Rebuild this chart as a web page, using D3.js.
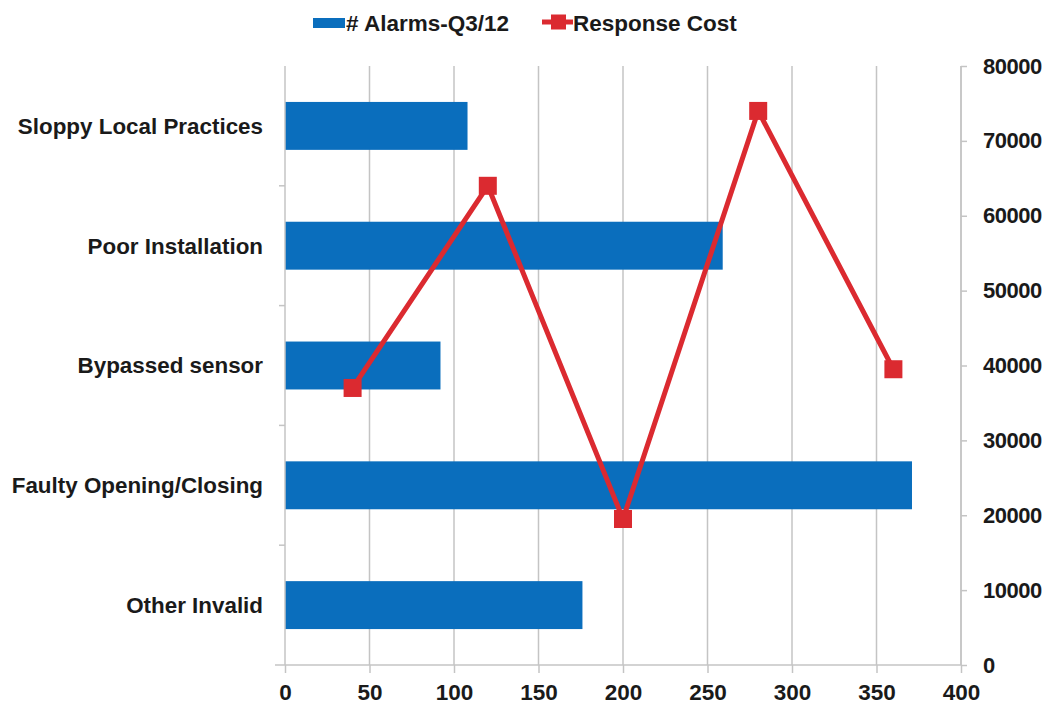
<!DOCTYPE html>
<html>
<head>
<meta charset="utf-8">
<script src="https://cdn.jsdelivr.net/npm/d3@7"></script>
<style>
  html, body { margin: 0; padding: 0; background: #fff; }
  svg text { font-family: "Liberation Sans", Arial, sans-serif; font-weight: bold; fill: #1a1a1a; }
</style>
</head>
<body>
<svg id="chart" width="1048" height="708"></svg>
<script>
// Categories listed top to bottom as shown
const categories = ["Sloppy Local Practices", "Poor Installation", "Bypassed sensor", "Faulty Opening/Closing", "Other Invalid"];
const alarms = [108, 259, 92, 371, 176];
// Response cost points, left to right
const costOrder = ["Other Invalid", "Faulty Opening/Closing", "Bypassed sensor", "Poor Installation", "Sloppy Local Practices"];
const costs = [37000, 64000, 19500, 74000, 39500];
const xTicks = [0, 50, 100, 150, 200, 250, 300, 350, 400];
const yTicks = [0, 10000, 20000, 30000, 40000, 50000, 60000, 70000, 80000];
const seriesNames = ["# Alarms-Q3/12", "Response Cost"];

const barColor = "#0a6ebd";
const lineColor = "#db2a30";
const gridColor = "#c4c4c4";

const svg = d3.select("#chart");
const L = 285, R = 961, T = 66, B = 665;

const x = d3.scaleLinear().domain([0, 400]).range([L, R]);
const yBand = d3.scaleBand().domain(categories).range([T, B]).paddingInner(0.6).paddingOuter(0.3);
const yCost = d3.scaleLinear().domain([0, 80000]).range([B, T]);
const xCat = d3.scaleBand().domain(costOrder).range([L, R]);

// vertical gridlines
svg.append("g").selectAll("line").data(xTicks.filter(d => d > 0)).join("line")
  .attr("x1", d => x(d)).attr("x2", d => x(d)).attr("y1", T).attr("y2", B)
  .attr("stroke", gridColor).attr("stroke-width", 1.5);

// bars
svg.append("g").selectAll("rect").data(categories).join("rect")
  .attr("x", x(0)).attr("y", d => yBand(d))
  .attr("width", (d, i) => x(alarms[i]) - x(0)).attr("height", yBand.bandwidth())
  .attr("fill", barColor);

// bottom axis
const xAxis = svg.append("g").attr("transform", `translate(0,${B})`)
  .call(d3.axisBottom(x).tickValues(xTicks).tickSize(8).tickPadding(11));
xAxis.select(".domain").attr("stroke", gridColor).attr("stroke-width", 1.5).attr("d", `M${L-10},0H${R}`);
xAxis.selectAll(".tick line").attr("stroke", gridColor).attr("stroke-width", 1.5);
xAxis.selectAll("text").attr("font-size", 22.5).attr("fill", "#1a1a1a");

// left axis with boundary ticks
const yLeft = svg.append("g");
yLeft.append("line").attr("x1", L).attr("x2", L).attr("y1", T).attr("y2", B)
  .attr("stroke", gridColor).attr("stroke-width", 1.5);
const step = yBand.step();
const bounds = categories.slice(1).map(c => yBand(c) - (step - yBand.bandwidth()) / 2);
yLeft.selectAll(".bt").data(bounds).join("line")
  .attr("x1", L - 6).attr("x2", L).attr("y1", d => d).attr("y2", d => d)
  .attr("stroke", gridColor).attr("stroke-width", 1.5);
yLeft.selectAll("text").data(categories).join("text")
  .attr("x", 263).attr("y", d => yBand(d) + yBand.bandwidth() / 2)
  .attr("dy", "0.35em").attr("text-anchor", "end").attr("font-size", 22.4)
  .text(d => d);

// right axis
const yAxis = svg.append("g").attr("transform", `translate(${R},0)`)
  .call(d3.axisRight(yCost).tickValues(yTicks).tickSize(6).tickPadding(16).tickFormat(d3.format("d")));
yAxis.select(".domain").attr("stroke", gridColor).attr("stroke-width", 1.5).attr("d", `M0,${T}V${B}`);
yAxis.selectAll(".tick line").attr("stroke", gridColor).attr("stroke-width", 1.5);
yAxis.selectAll("text").attr("font-size", 22).attr("letter-spacing", "-0.5px").attr("fill", "#1a1a1a");

// cost line
const pts = costOrder.map((c, i) => [xCat(c) + xCat.bandwidth() / 2, yCost(costs[i])]);
svg.append("path").datum(pts)
  .attr("d", d3.line())
  .attr("fill", "none").attr("stroke", lineColor).attr("stroke-width", 5).attr("stroke-linejoin", "miter");
const ms = 18;
svg.append("g").selectAll("rect").data(pts).join("rect")
  .attr("x", d => d[0] - ms / 2).attr("y", d => d[1] - ms / 2)
  .attr("width", ms).attr("height", ms).attr("fill", lineColor);

// legend
const lg = svg.append("g");
lg.append("rect").attr("x", 313).attr("y", 18).attr("width", 32).attr("height", 10).attr("fill", barColor);
lg.append("text").attr("x", 346).attr("y", 23).attr("dy", "0.35em").attr("font-size", 22.5).text(seriesNames[0]);
lg.append("line").attr("x1", 542).attr("x2", 573).attr("y1", 22).attr("y2", 22)
  .attr("stroke", lineColor).attr("stroke-width", 5);
lg.append("rect").attr("x", 551).attr("y", 14.5).attr("width", 15).attr("height", 15).attr("fill", lineColor);
lg.append("text").attr("x", 573).attr("y", 23).attr("dy", "0.35em").attr("font-size", 22.5).text(seriesNames[1]);
</script>
</body>
</html>
